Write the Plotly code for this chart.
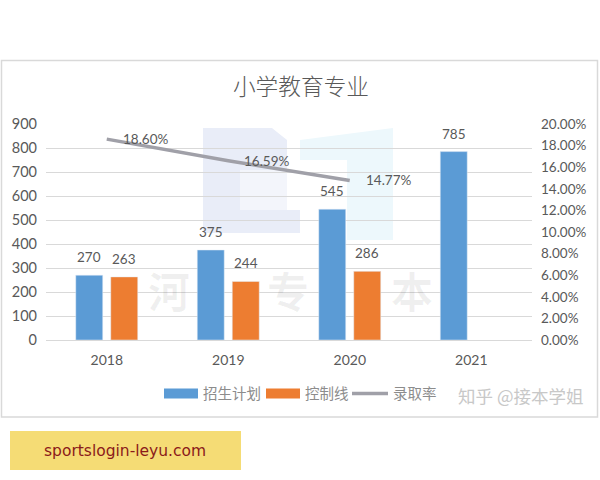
import plotly.graph_objects as go
from plotly.subplots import make_subplots

years = ['2018', '2019', '2020', '2021']
plan = [270, 375, 545, 785]
control = [263, 244, 286, None]
rate = [18.60, 16.59, 14.77, None]
rate_labels = ['18.60%', '16.59%', '14.77%']
left_ticks = [0, 100, 200, 300, 400, 500, 600, 700, 800, 900]
right_ticks = [0, 2, 4, 6, 8, 10, 12, 14, 16, 18, 20]
right_labels = ['0.00%', '2.00%', '4.00%', '6.00%', '8.00%', '10.00%', '12.00%',
                '14.00%', '16.00%', '18.00%', '20.00%']

W, H = 600, 480
FONT = 'Lato, "Noto Sans CJK SC", sans-serif'
CJK = '"Noto Sans CJK SC", sans-serif'
BLUE, ORANGE, GREY = '#5B9BD5', '#ED7D31', '#A0A0A8'


# helpers for page pixels -> paper coordinates
def px(x):
    return (x - 46) / 486


def py(y):
    return (340 - y) / 216


def note(x, y, text, font, xanchor='center'):
    fig.add_annotation(xref='paper', yref='paper', x=px(x), y=py(y), text=text,
                       showarrow=False, xanchor=xanchor, yanchor='middle', font=font)


def block(path, col):
    fig.add_shape(type='path', path=path, xref='paper', yref='paper', layer='below',
                  fillcolor=col, line_width=0)


def pts(*xy):
    return 'M' + ' L'.join(f'{px(a):.4f} {py(b):.4f}' for a, b in xy) + ' Z'


def legend_at(x, width):
    return dict(x=px(x), y=py(393.5), xanchor='left', yanchor='middle', itemwidth=width,
                font=dict(size=14.5, family=CJK, color='#8C8C8C'), bgcolor='rgba(0,0,0,0)')


fig = make_subplots(specs=[[{'secondary_y': True}]])

fig.add_trace(go.Bar(x=years, y=plan, name='招生计划', marker_color=BLUE, showlegend=False))
fig.add_trace(go.Bar(x=years, y=control, name='控制线', marker_color=ORANGE, showlegend=False))
fig.add_trace(go.Scatter(x=years, y=rate, name='录取率', mode='lines', showlegend=False,
                         line=dict(color=GREY, width=3.5)),
              secondary_y=True)

# legend keys are wide bars in the original, thick lines draw them closer than bar swatches
fig.add_trace(go.Scatter(x=[None], y=[None], name='招生计划', mode='lines', legend='legend',
                         line=dict(color=BLUE, width=10)))
fig.add_trace(go.Scatter(x=[None], y=[None], name='控制线', mode='lines', legend='legend2',
                         line=dict(color=ORANGE, width=10)))
fig.add_trace(go.Scatter(x=[None], y=[None], name='录取率', mode='lines', legend='legend3',
                         line=dict(color=GREY, width=3.5)))

# bar labels float higher than textposition outside allows
# annotations on a category axis take the category index, not its name
for vals, shift in [(plan, -17.5), (control, 17.5)]:
    for i, val in enumerate(vals):
        if val is not None:
            fig.add_annotation(x=i, y=val, xref='x', yref='y', text=str(val), showarrow=False,
                               xanchor='center', yanchor='middle', xshift=shift, yshift=18,
                               font=dict(size=13.5, color='#595959'))

# rate labels sit to the right of each point
for i, (val, lab) in enumerate(zip(rate, rate_labels)):
    fig.add_annotation(x=i, y=val, xref='x', yref='y2', text=lab, showarrow=False,
                       xanchor='left', yanchor='middle', xshift=14,
                       font=dict(size=13.5, color='#595959'))

# faint watermark behind the plot
block(pts((203, 128), (272, 128), (287, 140), (287, 170), (240, 170), (240, 210),
          (300, 210), (300, 233), (203, 233)), '#E9EDF8')
block(pts((240, 170), (287, 170), (287, 210), (240, 210)), '#F3F5FB')
block(pts((300, 140), (393, 128), (393, 240), (347, 240), (347, 160), (300, 160)), '#EDF8FC')
for ch, cx in [('河', 169), ('专', 288), ('本', 412)]:
    note(cx, 289, '<b>%s</b>' % ch, dict(size=42, family=CJK, color='rgba(0,0,0,0.06)'))

# outer frame of the pasted chart
fig.add_shape(type='rect', xref='paper', yref='paper', layer='below',
              x0=px(1.5), x1=px(597.5), y0=py(417), y1=py(60.5),
              fillcolor='rgba(0,0,0,0)', line=dict(color='#D9D9D9', width=1.5))

# zhihu credit and the yellow strip under the chart
note(585, 395, '知乎 @接本学姐', dict(size=17.5, family=CJK, color='#C8C8C8'), xanchor='right')
fig.add_shape(type='rect', xref='paper', yref='paper',
              x0=px(10), x1=px(241), y0=py(470), y1=py(431),
              fillcolor='#F5DC75', line_width=0)
note(125, 450.5, 'sportslogin-leyu.com',
     dict(size=15.5, family='"DejaVu Sans", sans-serif', color='#8B1A1A'))

fig.update_layout(
    width=W, height=H,
    paper_bgcolor='white', plot_bgcolor='rgba(0,0,0,0)',
    margin=dict(l=46, r=68, t=124, b=140, autoexpand=False),
    font=dict(family=FONT, size=13.5, color='#595959'),
    title=dict(text='小学教育专业', x=301 / W, xanchor='center', y=1 - 87 / H, yanchor='middle',
               font=dict(size=22.7, family=CJK, color='#595959', weight=300)),
    barmode='group', bargap=0.424, bargroupgap=0.229,
    legend=legend_at(159, 34), legend2=legend_at(261, 34), legend3=legend_at(347, 36),
)
fig.update_xaxes(type='category', range=[-0.5, 3.5], domain=[0, 1], showgrid=False, ticks='',
                 showline=True, linecolor='#D9D9D9', ticklabelstandoff=7,
                 tickfont=dict(size=14, color='#595959'))
fig.update_yaxes(range=[0, 900], tickvals=left_ticks, gridcolor='#D9D9D9', gridwidth=1,
                 zeroline=False, ticks='', ticklabelstandoff=8,
                 tickfont=dict(size=14.5, color='#595959'), secondary_y=False)
fig.update_yaxes(range=[0, 20], tickvals=right_ticks, ticktext=right_labels, showgrid=False,
                 zeroline=False, ticks='', ticklabelstandoff=8,
                 tickfont=dict(size=13.5, color='#595959'), secondary_y=True)

fig.write_html('out.html', config={'displayModeBar': False},
               post_script="document.body.style.margin='0';")
